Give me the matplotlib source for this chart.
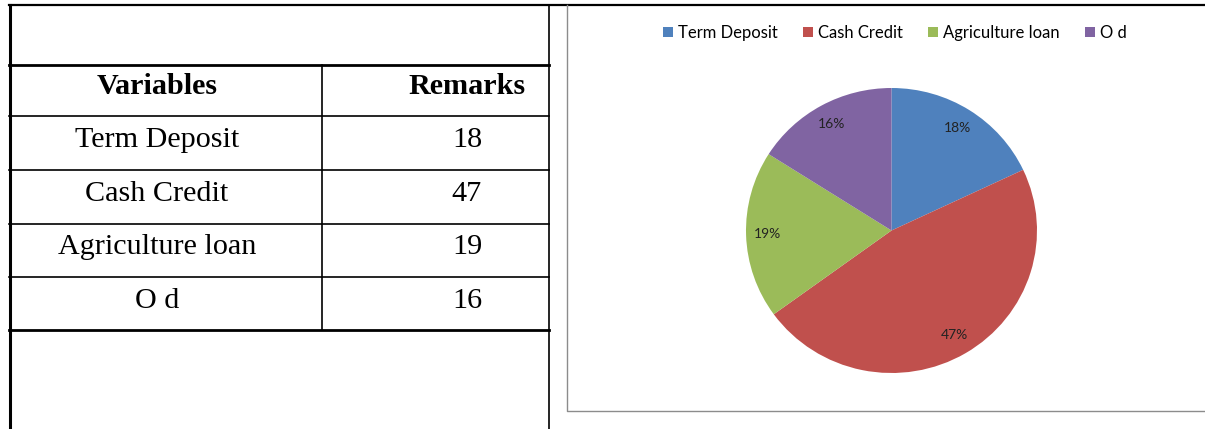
import matplotlib.pyplot as plt
from matplotlib.patches import Patch

# data
variables = ["Term Deposit", "Cash Credit", "Agriculture loan", "O d"]
remarks = [18, 47, 19, 16]
colors = ["#4F81BD", "#C0504D", "#9BBB59", "#8064A2"]

W, H = 1205, 429
fig = plt.figure(figsize=(W / 100, H / 100), dpi=100)

# full-figure axes in pixel coordinates for the table and frames
bg = fig.add_axes([0, 0, 1, 1])
bg.set_xlim(0, W)
bg.set_ylim(H, 0)
bg.axis("off")

# table grid
row_y = [65, 116, 170, 224, 277, 330]
bg.plot([9, W], [5, 5], color="black", lw=1.6)
bg.plot([9.5, 9.5], [5, H], color="black", lw=2.2)
bg.plot([549, 549], [5, H], color="black", lw=1.2)
for i, y in enumerate(row_y):
    lw = 2.0 if i in (0, len(row_y) - 1) else 1.2
    bg.plot([9, 549], [y, y], color="black", lw=lw)
bg.plot([322, 322], [row_y[0], row_y[-1]], color="black", lw=1.2)

# table text
serif = "Liberation Serif"
fs = 21.7
bg.text(157, 86, "Variables", ha="center", va="center", family=serif,
        fontweight="bold", fontsize=fs)
bg.text(467, 86, "Remarks", ha="center", va="center", family=serif,
        fontweight="bold", fontsize=fs)
for i, (name, val) in enumerate(zip(variables, remarks)):
    yc = (row_y[i + 1] + row_y[i + 2]) / 2 - 3
    bg.text(157, yc, name, ha="center", va="center", family=serif, fontsize=fs)
    bg.text(467, yc, str(val), ha="center", va="center", family=serif, fontsize=fs)

# chart frame
bg.plot([567, 567, W], [5, 411, 411], color="#8c8c8c", lw=1.0)

# pie
pie_ax = fig.add_axes([746 / W, 1 - 373 / H, 291 / W, 285 / H])
wedges, _, autotexts = pie_ax.pie(
    remarks, colors=colors, startangle=90, counterclock=False,
    autopct="%1.0f%%", pctdistance=0.85,
    textprops={"family": "Lato", "fontsize": 10, "color": "#222222"})
pie_ax.set_aspect("auto")
pie_ax.set_xlim(-1, 1)
pie_ax.set_ylim(-1, 1)

# legend
handles = [Patch(facecolor=c, edgecolor="none") for c in colors]
fig.legend(handles, variables, loc="center", bbox_to_anchor=(895 / W, 1 - 33 / H),
           ncol=4, frameon=False, prop={"family": "Lato", "size": 12},
           handlelength=0.6, handleheight=0.6, handletextpad=0.3,
           columnspacing=1.5)

fig.savefig("out.png", dpi=100)
